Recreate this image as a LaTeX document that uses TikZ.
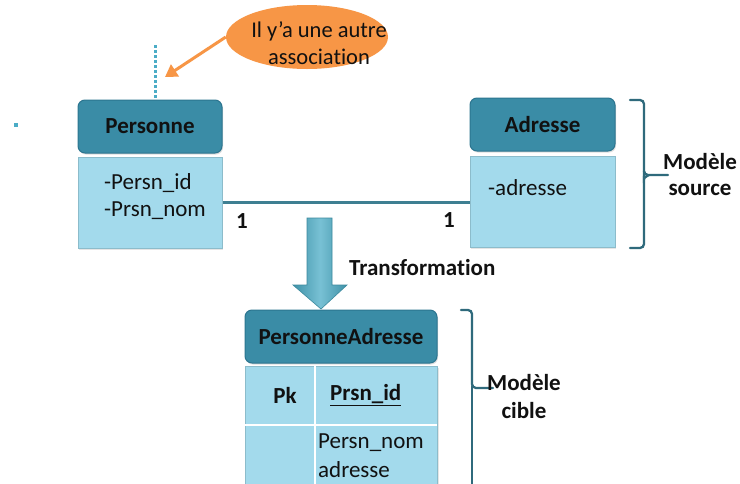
\documentclass[tikz,border=0pt]{standalone}
\usepackage{fontspec}
\setmainfont{Carlito}[Ligatures=NoCommon]
\usetikzlibrary{shapes.geometric,arrows.meta,shadows}
\definecolor{hdr}{HTML}{3A8CA6}
\definecolor{hdrline}{HTML}{2C7590}
\definecolor{bodyc}{HTML}{A3DAEC}
\definecolor{bodyline}{HTML}{8CBCCB}
\definecolor{linec}{HTML}{3E7F92}
\definecolor{bracec}{HTML}{2F6A7C}
\definecolor{orangec}{HTML}{F79646}
\definecolor{arrowc}{HTML}{4BACC6}
\definecolor{txt}{HTML}{111111}
\tikzset{
  hdrbox/.style={draw=hdrline, line width=1pt, fill=hdr, rounded corners=7pt, font=\fontsize{23}{27}\selectfont\bfseries, text=txt, inner sep=0pt, drop shadow={opacity=0.25, shadow xshift=1pt, shadow yshift=-1.5pt}},
  bodybox/.style={draw=bodyline, line width=1pt, fill=bodyc, inner sep=0pt, drop shadow={opacity=0.2, shadow xshift=1pt, shadow yshift=-1.5pt}},
  attr/.style={font=\fontsize{23}{27}\selectfont, text=txt, inner sep=0pt, anchor=west},
  lbl/.style={font=\fontsize{23}{27}\selectfont\bfseries, text=txt, inner sep=0pt},
  bracepath/.style={draw=bracec, line width=2.3pt},
  conn/.style={draw=linec, line width=2.3pt},
}
\begin{document}
\begin{tikzpicture}[x=1pt, y=-1pt]
\clip (0,0) rectangle (740,483);
\fill[white] (0,0) rectangle (740,483);
% speck
\fill[arrowc] (14,123) rectangle (18,127);
% Personne
\node[hdrbox, minimum width=144pt, minimum height=53pt] (ph) at (150,126.5) {Personne};
\node[bodybox, minimum width=144pt, minimum height=91pt] (pb) at (150,202.5) {};
\node[attr] (pa1) at (104,183) {-Persn\_id};
\node[attr] (pa2) at (104,211) {-Prsn\_nom};
% dotted association stub
\coordinate (dtop) at (155,45);
\draw[draw=arrowc, line width=3pt, dash pattern=on 2.5pt off 2.5pt] (dtop) -- (dtop |- ph.north);
% Adresse
\node[hdrbox, minimum width=145pt, minimum height=53pt] (ah) at (542.5,124.5) {Adresse};
\node[bodybox, minimum width=145pt, minimum height=91pt] (ab) at (542.5,201.5) {};
\node[attr] (aa1) at (488,188) {-adresse};
% association line
\draw[conn] (pb.east) -- (pb.east -| ab.west);
\node[lbl] (m1) at (242,221) {1};
\node[lbl] (m2) at (449,220) {1};
% callout
\node[ellipse, fill=orangec, minimum width=162pt, minimum height=64pt, inner sep=0pt] (call) at (307,37) {};
\node[font=\fontsize{22.5}{27}\selectfont, text=txt, align=center, inner sep=0pt] (calltxt) at (319,43) {Il y’a une autre\\association};
\coordinate (calltip) at (165,77);
\draw[draw=orangec, line width=3pt, -{Triangle[length=12pt,width=14pt]}] (call.west) -- (calltip);
% PersonneAdresse
\node[hdrbox, minimum width=192pt, minimum height=53pt] (pah) at (341,336.5) {PersonneAdresse};
\node[bodybox, minimum width=192pt, minimum height=140pt, anchor=north west] (pab) at (245,366) {};
\draw[white, line width=2.5pt] (315,366) -- (315,500);
\draw[white, line width=2.5pt] (245,425) -- (437,425);
\node[lbl] (pk) at (285,395) {Pk};
\node[lbl, anchor=west] (pid) at (330,395) {\underline{Prsn\_id}};
\node[attr] (pn) at (318,443) {Persn\_nom};
\node[attr] (pad) at (318,470) {adresse};
% Transformation arrow
\coordinate (atip) at (321,309);
\path[left color=arrowc!85!black, right color=arrowc!85!black, middle color=arrowc!75!white, draw=arrowc!80!black, line width=0.6pt]
  (307,218) -- (332,218) -- (332,285) -- (347,285) -- (atip) -- (293,285) -- (307,285) -- cycle;
\node[lbl, anchor=west] (tr) at (349,268) {Transformation};
% braces
\draw[bracepath, line cap=round] (630,100) -- (640,100) to[out=0,in=90] (644,104) -- (644,171) to[out=-90,in=180] (648,175) -- (668,175);
\draw[bracepath, line cap=round] (644,171) -- (644,179) to[out=90,in=0] (648,175);
\draw[bracepath, line cap=round] (644,176) -- (644,244) to[out=-90,in=0] (640,248) -- (630,248);
\node[lbl, align=center, font=\fontsize{23}{26}\selectfont\bfseries] (ms) at (700,175) {Modèle\\source};
\draw[bracepath, line cap=round] (461,310) -- (468,310) to[out=0,in=90] (472,314) -- (472,384) to[out=-90,in=180] (476,388) -- (493,388);
\draw[bracepath, line cap=round] (472,386) -- (472,500);
\node[lbl, align=center, font=\fontsize{23}{28}\selectfont\bfseries] (mc) at (524,397) {Modèle\\cible};
\end{tikzpicture}
\end{document}
